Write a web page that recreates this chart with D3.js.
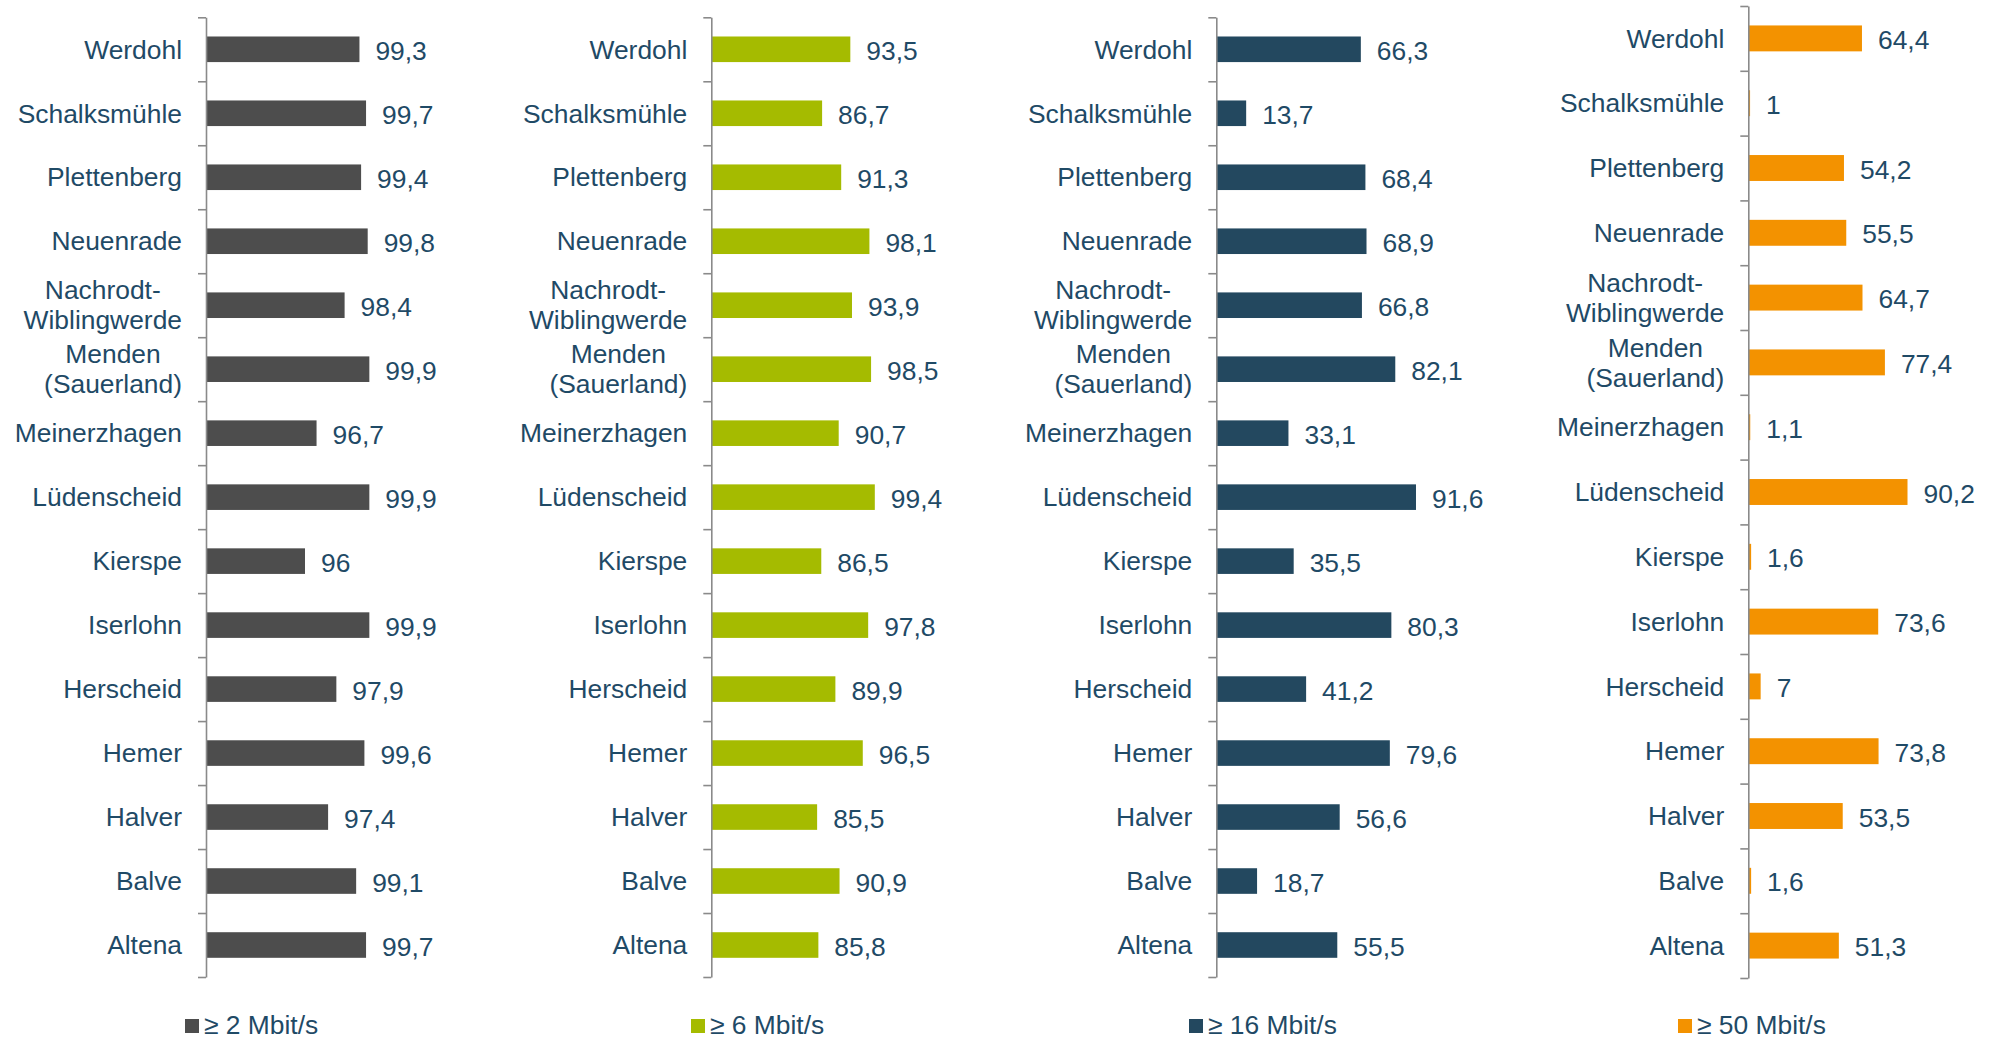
<!DOCTYPE html>
<html>
<head>
<meta charset="utf-8">
<script src="https://cdn.jsdelivr.net/npm/d3@7"></script>
<style>
  html, body { margin: 0; padding: 0; background: #ffffff; }
  svg { display: block; }
  text { font-family: "Liberation Sans", Arial, sans-serif; fill: #1f4a66; }
</style>
</head>
<body>
<svg id="chart" width="1993" height="1039"></svg>
<script>
// ---------------- DATA ----------------
const categories = [
  "Werdohl", "Schalksmühle", "Plettenberg", "Neuenrade", "Nachrodt-\nWiblingwerde",
  "Menden\n(Sauerland)", "Meinerzhagen", "Lüdenscheid", "Kierspe", "Iserlohn",
  "Herscheid", "Hemer", "Halver", "Balve", "Altena"
];
const seriesNames = ["≥ 2 Mbit/s", "≥ 6 Mbit/s", "≥ 16 Mbit/s", "≥ 50 Mbit/s"];
const values2 = [99.3, 99.7, 99.4, 99.8, 98.4, 99.9, 96.7, 99.9, 96, 99.9, 97.9, 99.6, 97.4, 99.1, 99.7];
const values6 = [93.5, 86.7, 91.3, 98.1, 93.9, 98.5, 90.7, 99.4, 86.5, 97.8, 89.9, 96.5, 85.5, 90.9, 85.8];
const values16 = [66.3, 13.7, 68.4, 68.9, 66.8, 82.1, 33.1, 91.6, 35.5, 80.3, 41.2, 79.6, 56.6, 18.7, 55.5];
const values50 = [64.4, 1, 54.2, 55.5, 64.7, 77.4, 1.1, 90.2, 1.6, 73.6, 7, 73.8, 53.5, 1.6, 51.3];
const axisDomains = [[90, 100], [60, 100], [0, 100], [0, 100]];

// ---------------- LAYOUT / STYLE ----------------
const colors = ["#4d4d4d", "#a5bb00", "#23485f", "#f39200"];
const panels = [
  { values: values2,  axisX: 206,    width: 165,   top: 17.3, bottom: 977,   legendX: 185 },
  { values: values6,  axisX: 711.3,  width: 166,   top: 17.3, bottom: 977,   legendX: 691 },
  { values: values16, axisX: 1216.3, width: 218,   top: 17.3, bottom: 977,   legendX: 1189 },
  { values: values50, axisX: 1748.3, width: 176.5, top: 6,    bottom: 978,   legendX: 1678 }
];
const fontSize = 26.4;
const lineHeight = 30;

const svg = d3.select("#chart");
const fmt = v => String(v).replace(".", ",");

panels.forEach((p, pi) => {
  const g = svg.append("g");
  const x = d3.scaleLinear().domain(axisDomains[pi]).range([p.axisX, p.axisX + p.width]);
  const y = d3.scaleBand().domain(d3.range(categories.length))
    .range([p.top, p.bottom]).paddingInner(0.6).paddingOuter(0.3);
  const yEdge = d3.scaleLinear().domain([0, categories.length]).range([p.top, p.bottom]);

  // bars
  g.selectAll("rect.bar").data(p.values).enter().append("rect")
    .attr("class", "bar")
    .attr("x", x.range()[0])
    .attr("y", (d, i) => y(i))
    .attr("width", d => Math.max(0, x(d) - x.range()[0]))
    .attr("height", y.bandwidth())
    .attr("fill", colors[pi]);

  // axis with ticks at category boundaries
  const axis = d3.axisLeft(yEdge).tickValues(d3.range(categories.length + 1))
    .tickSize(8).tickSizeOuter(0).tickFormat("");
  const ag = g.append("g").attr("transform", `translate(${p.axisX},0)`).call(axis);
  ag.selectAll("path, line").attr("stroke", "#8a8a8a").attr("stroke-width", 1.6);

  // value labels
  g.selectAll("text.val").data(p.values).enter().append("text")
    .attr("class", "val")
    .attr("x", d => x(d) + 16)
    .attr("y", (d, i) => y(i) + y.bandwidth() / 2)
    .attr("dy", "0.4em")
    .attr("font-size", fontSize)
    .text(d => fmt(d));

  // category labels
  const labelRight = p.axisX - 24;
  categories.forEach((c, i) => {
    const lines = c.split("\n");
    const cy = y(i) + y.bandwidth() / 2;
    const t = g.append("text").attr("font-size", fontSize);
    if (lines.length === 1) {
      t.attr("x", labelRight).attr("y", cy).attr("dy", "0.35em")
        .attr("text-anchor", "end").text(c);
    } else {
      t.attr("text-anchor", "middle");
      const spans = lines.map((ln, li) => t.append("tspan")
        .attr("y", cy + 9.2 + (li - (lines.length - 1) / 2) * lineHeight)
        .text(ln));
      const maxW = d3.max(spans, s => s.node().getComputedTextLength());
      spans.forEach(s => s.attr("x", labelRight - maxW / 2));
    }
  });

  // legend
  const lg = svg.append("g");
  lg.append("rect").attr("x", p.legendX).attr("y", 1019).attr("width", 14).attr("height", 14)
    .attr("fill", colors[pi]);
  lg.append("text").attr("x", p.legendX + 19).attr("y", 1033.5).attr("font-size", fontSize)
    .text(seriesNames[pi]);
});
</script>
</body>
</html>
